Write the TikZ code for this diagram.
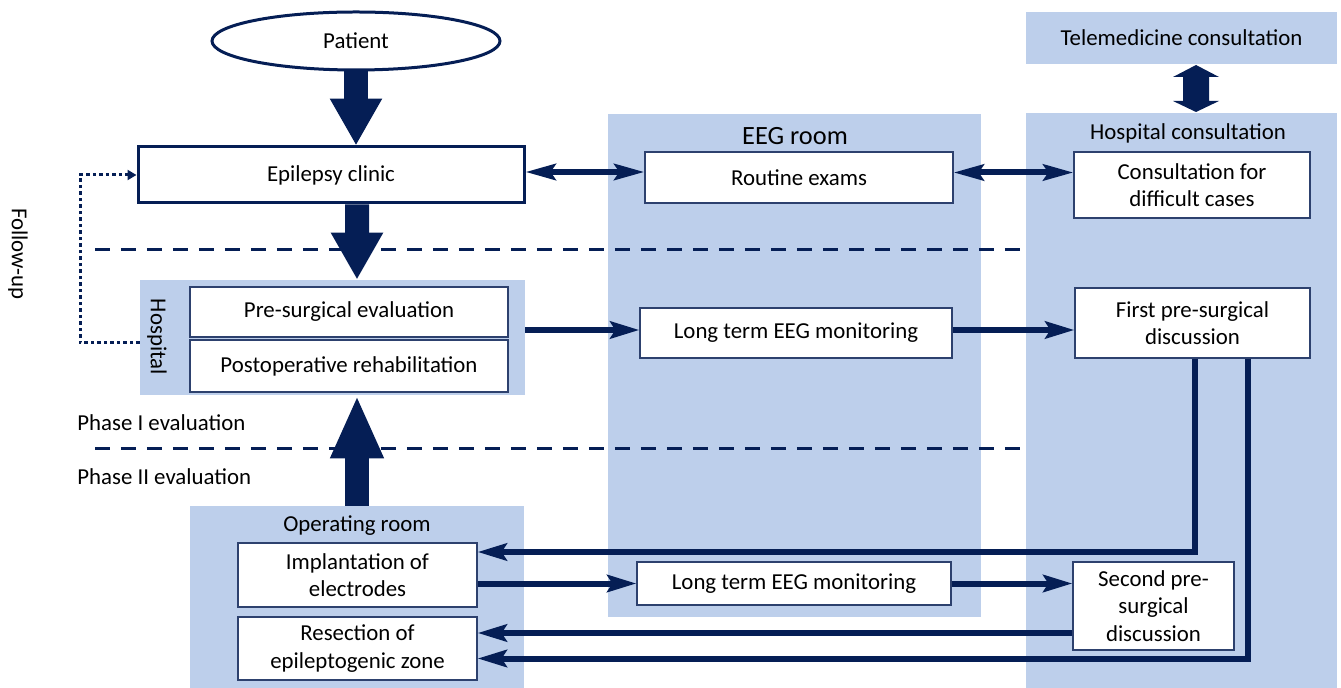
\documentclass[tikz,border=0pt]{standalone}
\usepackage{fontspec}
\setmainfont{Carlito}
\usetikzlibrary{arrows.meta,calc,fit,shapes.geometric}
\definecolor{navy}{RGB}{5,30,85}
\definecolor{panel}{RGB}{189,207,235}
\definecolor{boxline}{RGB}{45,65,110}
\begin{document}
\begin{tikzpicture}[x=0.02cm,y=-0.02cm,
  font=\fontsize{13}{15.5}\selectfont,
  panelbox/.style={fill=panel, draw=none, inner sep=0pt},
  sz/.style 2 args={minimum width=#1*0.02cm, minimum height=#2*0.02cm},
  box/.style={draw=boxline, line width=0.7pt, fill=white, inner sep=0pt, align=center},
  conn/.style={draw=navy, line width=0.12cm, -{Stealth[length=0.58cm,width=0.34cm,inset=0.1cm]}},
  dconn/.style={draw=navy, line width=0.12cm, {Stealth[length=0.6cm,width=0.32cm,inset=0.1cm]}-{Stealth[length=0.6cm,width=0.32cm,inset=0.1cm]}},
  blockarrow/.style={draw=navy, line width=0.48cm, -{Triangle[length=0.94cm,width=0.98cm]}},
  dashline/.style={draw=navy, line width=0.06cm, dash pattern=on 0.3cm off 0.22cm},
  followline/.style={draw=navy, line width=0.06cm, dash pattern=on 0.07cm off 0.06cm, -{Triangle[length=0.18cm,width=0.2cm]}},
  title/.style={inner sep=0pt}]
\useasboundingbox (0,0) rectangle (1341,688);

% panels
\node[panelbox, sz={311}{52}] (tele) at (1181.5,38) {Telemedicine consultation};
\node[panelbox, fit={(1026,113)(1337,688)}] (hcons) {};
\node[panelbox, fit={(608,114)(981,617)}] (eeg) {};
\node[panelbox, fit={(140,280)(525,395)}] (hosp) {};
\node[panelbox, fit={(190,506)(524,688)}] (orroom) {};

% titles
\node[title] (hconsT) at (1188,133) {Hospital consultation};
\node[title, font=\fontsize{15}{17}\selectfont] (eegT) at (795,136) {EEG room};
\node[title] (orT) at (357,526) {Operating room};
\node[title, rotate=-90] (hospT) at (157,337) {Hospital};
\node[title, rotate=-90] (fuT) at (18,254) {Follow-up};
\node[title, anchor=west] (ph1) at (77,423) {Phase I evaluation};
\node[title, anchor=west] (ph2) at (77,477) {Phase II evaluation};

% dashed separators
\draw[dashline] (95,250) -- (1028,250);
\draw[dashline] (95,449) -- (1028,449);

% nodes
\node[ellipse, draw=navy, line width=0.06cm, fill=white, sz={288}{58}] (patient) at (356,41) {Patient};
\node[box, draw=navy, line width=0.06cm, sz={386}{56}] (clinic) at (331,175) {Epilepsy clinic};
\node[box, sz={318}{50}] (presurg) at (349,312) {Pre-surgical evaluation};
\node[box, sz={318}{52}] (postop) at (349,366) {Postoperative rehabilitation};
\node[box, sz={308}{51}] (routine) at (799,177.5) {Routine exams};
\node[box, sz={312}{50}] (lteegA) at (796,333) {Long term EEG monitoring};
\node[box, sz={314}{43}] (lteegB) at (794,583.5) {Long term EEG monitoring};
\node[box, sz={236}{66}] (consult) at (1192,185) {Consultation for\\difficult cases};
\node[box, sz={235}{70}] (first) at (1192.5,323) {First pre-surgical\\discussion};
\node[box, sz={161}{88}] (second) at (1153.5,606) {Second pre-\\surgical\\discussion};
\node[box, sz={239}{64}] (impl) at (357.5,575) {Implantation of\\electrodes};
\node[box, sz={239}{63}] (resect) at (357.5,648.5) {Resection of\\epileptogenic zone};

% block arrows
\draw[blockarrow] (patient.south) -- (patient.south |- clinic.north);
\draw[blockarrow] ($(clinic.south)+(26,0)$) -- ($(hosp.north)+(24.5,0)$);
\draw[blockarrow, -{Triangle[length=1.26cm,width=0.98cm]}] (orroom.north) -- (orroom.north |- hosp.south);

% telemedicine double arrow
\fill[navy] (1196,65) -- (1219,77) -- (1209,77) -- (1209,101) -- (1219,101) -- (1196,112)
  -- (1173,101) -- (1183,101) -- (1183,77) -- (1173,77) -- cycle;

% follow-up dotted
\coordinate (fu) at (80,0);
\draw[followline] ($(hosp.west)+(0,5.5)$) -- (fu |- 0,343) -- (fu |- clinic.west) -- (clinic.west);

% connectors
\draw[dconn] ($(clinic.east)+(0,-3)$) -- ($(clinic.east -| routine.west)+(0,-3)$);
\draw[dconn] ($(routine.east)+(0,-5)$) -- ($(routine.east -| consult.west)+(0,-5)$);
\draw[conn] ($(hosp.east |- lteegA.west)+(0,-3)$) -- ($(lteegA.west)+(0,-3)$);
\draw[conn] ($(lteegA.east)+(0,-3)$) -- ($(lteegA.east -| first.west)+(0,-3)$);
\draw[conn] (impl.east |- lteegB.west) -- (lteegB.west);
\draw[conn] (lteegB.east) -- (lteegB.east -| second.west);
\draw[conn] ($(second.west)+(0,27)$) -- ($(second.west -| resect.east)+(0,27)$);
\draw[conn] ($(first.south)+(2.5,0)$) |- ($(impl.east)+(0,-23)$);
\draw[conn] ($(first.south)+(55.5,0)$) |- ($(resect.east)+(0,10)$);
\end{tikzpicture}
\end{document}
